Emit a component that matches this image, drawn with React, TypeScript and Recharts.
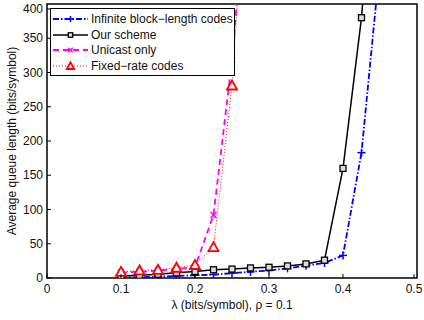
import React from "react";
import {
  LineChart,
  Line,
  XAxis,
  YAxis,
  ReferenceArea,
} from "recharts";

const lambdas = [0.1, 0.125, 0.15, 0.175, 0.2, 0.225, 0.25, 0.275, 0.3, 0.325, 0.35, 0.375, 0.4, 0.425, 0.45];
const infiniteBlock = [0.5, 1, 2, 3, 4, 5, 7, 9, 11, 14, 18, 22, 33, 183, 460];
const ourScheme = [3, 4, 5.5, 7.5, 9.5, 12, 13, 14.7, 15.7, 17.6, 20.6, 26, 160, 380, 720];
const unicastOnly = [8, 9, 11, 13, 16, 92, 318, 640];
const fixedRate = [9, 11, 12, 15, 19, 45, 281, 700];

const xTicks = [0, 0.1, 0.2, 0.3, 0.4, 0.5];
const yTicks = [0, 50, 100, 150, 200, 250, 300, 350, 400];

const data = lambdas.map((x, i) => ({
  x,
  infinite: infiniteBlock[i] ?? null,
  ours: ourScheme[i] ?? null,
  unicast: unicastOnly[i] ?? null,
  fixed: fixedRate[i] ?? null,
}));

const FONT = "'Liberation Sans', Arial, Helvetica, sans-serif";
const BLUE = "#0000ff";
const BLACK = "#000000";
const MAGENTA = "#ff00ff";
const RED = "#ff0000";

const BottomTick = (props: any) => {
  const { x, y, payload } = props;
  return (
    <g>
      <line x1={x} y1={y} x2={x} y2={y - 4} stroke="#000" strokeWidth={1} />
      <text x={x} y={y + 15} textAnchor="middle" fontSize={12} fill="#111" fontFamily={FONT}>
        {payload.value}
      </text>
    </g>
  );
};

const TopTick = (props: any) => {
  const { x, y } = props;
  return <line x1={x} y1={y} x2={x} y2={y + 4} stroke="#000" strokeWidth={1} />;
};

const LeftTick = (props: any) => {
  const { x, y, payload } = props;
  return (
    <g>
      <line x1={x} y1={y} x2={x + 4} y2={y} stroke="#000" strokeWidth={1} />
      <text x={x - 4} y={y + 4} textAnchor="end" fontSize={12} fill="#111" fontFamily={FONT}>
        {payload.value}
      </text>
    </g>
  );
};

const RightTick = (props: any) => {
  const { x, y } = props;
  return <line x1={x} y1={y} x2={x - 4} y2={y} stroke="#000" strokeWidth={1} />;
};

const PlusMark = ({ cx, cy, color, s = 1 }: any) => (
  <g>
    <line x1={cx - 4 * s} y1={cy} x2={cx + 4 * s} y2={cy} stroke={color} strokeWidth={1.5} />
    <line x1={cx} y1={cy - 4 * s} x2={cx} y2={cy + 4 * s} stroke={color} strokeWidth={1.5} />
  </g>
);

const SquareMark = ({ cx, cy, color, s = 1 }: any) => (
  <rect x={cx - 3 * s} y={cy - 3 * s} width={6 * s} height={6 * s} fill="#ddd" stroke={color} strokeWidth={1.3} />
);

const CrossMark = ({ cx, cy, color, s = 1 }: any) => (
  <g>
    <line x1={cx - 3 * s} y1={cy - 3 * s} x2={cx + 3 * s} y2={cy + 3 * s} stroke={color} strokeWidth={1.5} />
    <line x1={cx - 3 * s} y1={cy + 3 * s} x2={cx + 3 * s} y2={cy - 3 * s} stroke={color} strokeWidth={1.5} />
  </g>
);

const TriangleMark = ({ cx, cy, color, s = 1 }: any) => (
  <polygon
    points={`${cx},${cy - 5 * s} ${cx - 5 * s},${cy + 4 * s} ${cx + 5 * s},${cy + 4 * s}`}
    fill="#fff"
    stroke={color}
    strokeWidth={1.8}
  />
);

const makeDot = (Mark: any, color: string) => (props: any) => {
  const { cx, cy, value, index } = props;
  if (value == null || cx == null || cy == null) return <g key={index} />;
  return (
    <g key={index}>
      <Mark cx={cx} cy={cy} color={color} />
    </g>
  );
};

const legendItems = [
  { label: "Infinite block\u2212length codes", color: BLUE, dash: "6 2 1.5 2", width: 1.8, Mark: PlusMark },
  { label: "Our scheme", color: BLACK, dash: undefined, width: 1.5, Mark: SquareMark },
  { label: "Unicast only", color: MAGENTA, dash: "6 4", width: 1.8, Mark: CrossMark },
  { label: "Fixed\u2212rate codes", color: RED, dash: "1 2", width: 1, Mark: TriangleMark },
];

const LegendBox = () => (
  <div
    style={{
      position: "absolute",
      left: 50,
      top: 8,
      width: 183,
      height: 66,
      border: "1px solid #000",
      background: "#fff",
      fontFamily: FONT,
      fontSize: 12,
      color: "#111",
    }}
  >
    {legendItems.map((item, i) => (
      <div key={i} style={{ position: "absolute", left: 0, top: 2 + i * 15.5, height: 16, display: "flex", alignItems: "center" }}>
        <svg width={40} height={16}>
          <line x1={2} y1={8} x2={37} y2={8} stroke={item.color} strokeWidth={item.width} strokeDasharray={item.dash} />
          <item.Mark cx={19.5} cy={8} color={item.color} s={0.75} />
        </svg>
        <span style={{ whiteSpace: "nowrap" }}>{item.label}</span>
      </div>
    ))}
  </div>
);

export default function App() {
  return (
    <div style={{ position: "absolute", left: 0, top: 0, width: 424, height: 320, background: "#fff" }}>
      <LineChart width={424} height={320} data={data} margin={{ top: 4, right: 7, left: 0, bottom: 0 }}>
        <XAxis
          dataKey="x"
          type="number"
          domain={[0, 0.5]}
          ticks={xTicks}
          axisLine={false}
          tickLine={false}
          tickSize={0}
          tickMargin={0}
          height={42}
          tick={<BottomTick />}
          label={{ value: "\u03bb (bits/symbol), \u03c1 = 0.1", position: "insideBottom", offset: 11, fontSize: 12, fill: "#111", fontFamily: FONT }}
        />
        <XAxis
          xAxisId="top"
          orientation="top"
          dataKey="x"
          type="number"
          domain={[0, 0.5]}
          ticks={xTicks}
          axisLine={false}
          tickLine={false}
          tickSize={0}
          tickMargin={0}
          height={0}
          tick={<TopTick />}
        />
        <YAxis
          type="number"
          domain={[0, 400]}
          ticks={yTicks}
          allowDataOverflow
          axisLine={false}
          tickLine={false}
          tickSize={0}
          tickMargin={0}
          width={47}
          tick={<LeftTick />}
          label={{ value: "Average queue length (bits/symbol)", angle: -90, position: "insideLeft", offset: 0, dx: 12, fontSize: 12, fill: "#111", fontFamily: FONT, style: { textAnchor: "middle" } }}
        />
        <YAxis
          yAxisId="right"
          orientation="right"
          type="number"
          domain={[0, 400]}
          ticks={yTicks}
          axisLine={false}
          tickLine={false}
          tickSize={0}
          tickMargin={0}
          width={0}
          tick={<RightTick />}
        />
        <Line
          dataKey="infinite"
          stroke={BLUE}
          strokeWidth={1.8}
          strokeDasharray="6 2 1.5 2"
          dot={makeDot(PlusMark, BLUE)}
          activeDot={false}
          isAnimationActive={false}
        />
        <Line
          dataKey="ours"
          stroke={BLACK}
          strokeWidth={1.5}
          dot={makeDot(SquareMark, BLACK)}
          activeDot={false}
          isAnimationActive={false}
        />
        <Line
          dataKey="unicast"
          stroke={MAGENTA}
          strokeWidth={1.8}
          strokeDasharray="6 4"
          dot={makeDot(CrossMark, MAGENTA)}
          activeDot={false}
          isAnimationActive={false}
        />
        <Line
          dataKey="fixed"
          stroke={RED}
          strokeWidth={1}
          strokeDasharray="1 2"
          dot={makeDot(TriangleMark, RED)}
          activeDot={false}
          isAnimationActive={false}
        />
        <ReferenceArea x1={0} x2={0.5} y1={0} y2={400} fill="none" stroke="#000" strokeWidth={1.5} ifOverflow="visible" />
      </LineChart>
      <LegendBox />
    </div>
  );
}
